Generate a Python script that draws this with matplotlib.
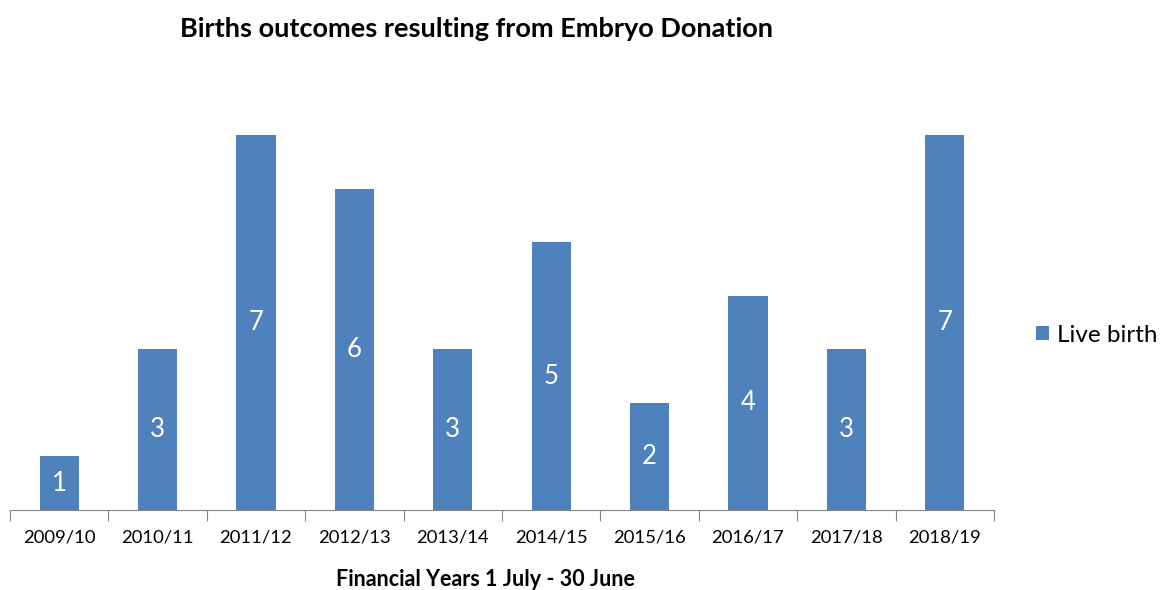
import matplotlib.pyplot as plt
import numpy as np

years = ["2009/10", "2010/11", "2011/12", "2012/13", "2013/14",
         "2014/15", "2015/16", "2016/17", "2017/18", "2018/19"]
live_births = [1, 3, 7, 6, 3, 5, 2, 4, 3, 7]

plt.rcParams["font.family"] = ["Lato", "DejaVu Sans"]

W, H = 1160, 590
fig = plt.figure(figsize=(W / 100, H / 100), dpi=100)
ax = fig.add_axes([10 / W, 1 - 510 / H, 984 / W, (510 - 135) / H])

x = np.arange(len(years))
bar_color = "#4F81BD"
bars = ax.bar(x, live_births, width=0.4, color=bar_color, label="Live birth", clip_on=False)
for xi, v in zip(x, live_births):
    ax.text(xi, v / 2, str(v), ha="center", va="center", color="white", fontsize=18.5)

ax.set_xlim(-0.5, len(years) - 0.5)
ax.set_ylim(0, 7)
for side in ["top", "right", "left"]:
    ax.spines[side].set_visible(False)
ax.spines["bottom"].set_color("#868686")
ax.set_yticks([])
ax.set_xticks(np.arange(len(years) + 1) - 0.5)
ax.set_xticklabels([])
ax.tick_params(axis="x", length=8, color="#868686")
ax.set_xticks(x, minor=True)
ax.set_xticklabels(years, minor=True, fontsize=13.3)
ax.tick_params(axis="x", which="minor", length=0, pad=14)

fig.text(476 / W, 1 - 29 / H, "Births outcomes resulting from Embryo Donation",
         ha="center", va="center", fontsize=19.5, fontweight="bold")
fig.text(485 / W, 1 - 579 / H, "Financial Years 1 July - 30 June",
         ha="center", va="center", fontsize=15.5, fontweight="bold")

fig.legend(handles=[bars], labels=["Live birth"], loc="center left",
           bbox_to_anchor=(1036 / W, 1 - 335 / H), frameon=False,
           fontsize=17.5, handlelength=0.55, handleheight=0.55, handletextpad=0.3,
           borderpad=0, borderaxespad=0)

fig.savefig("out.png", dpi=100)
plt.close(fig)
